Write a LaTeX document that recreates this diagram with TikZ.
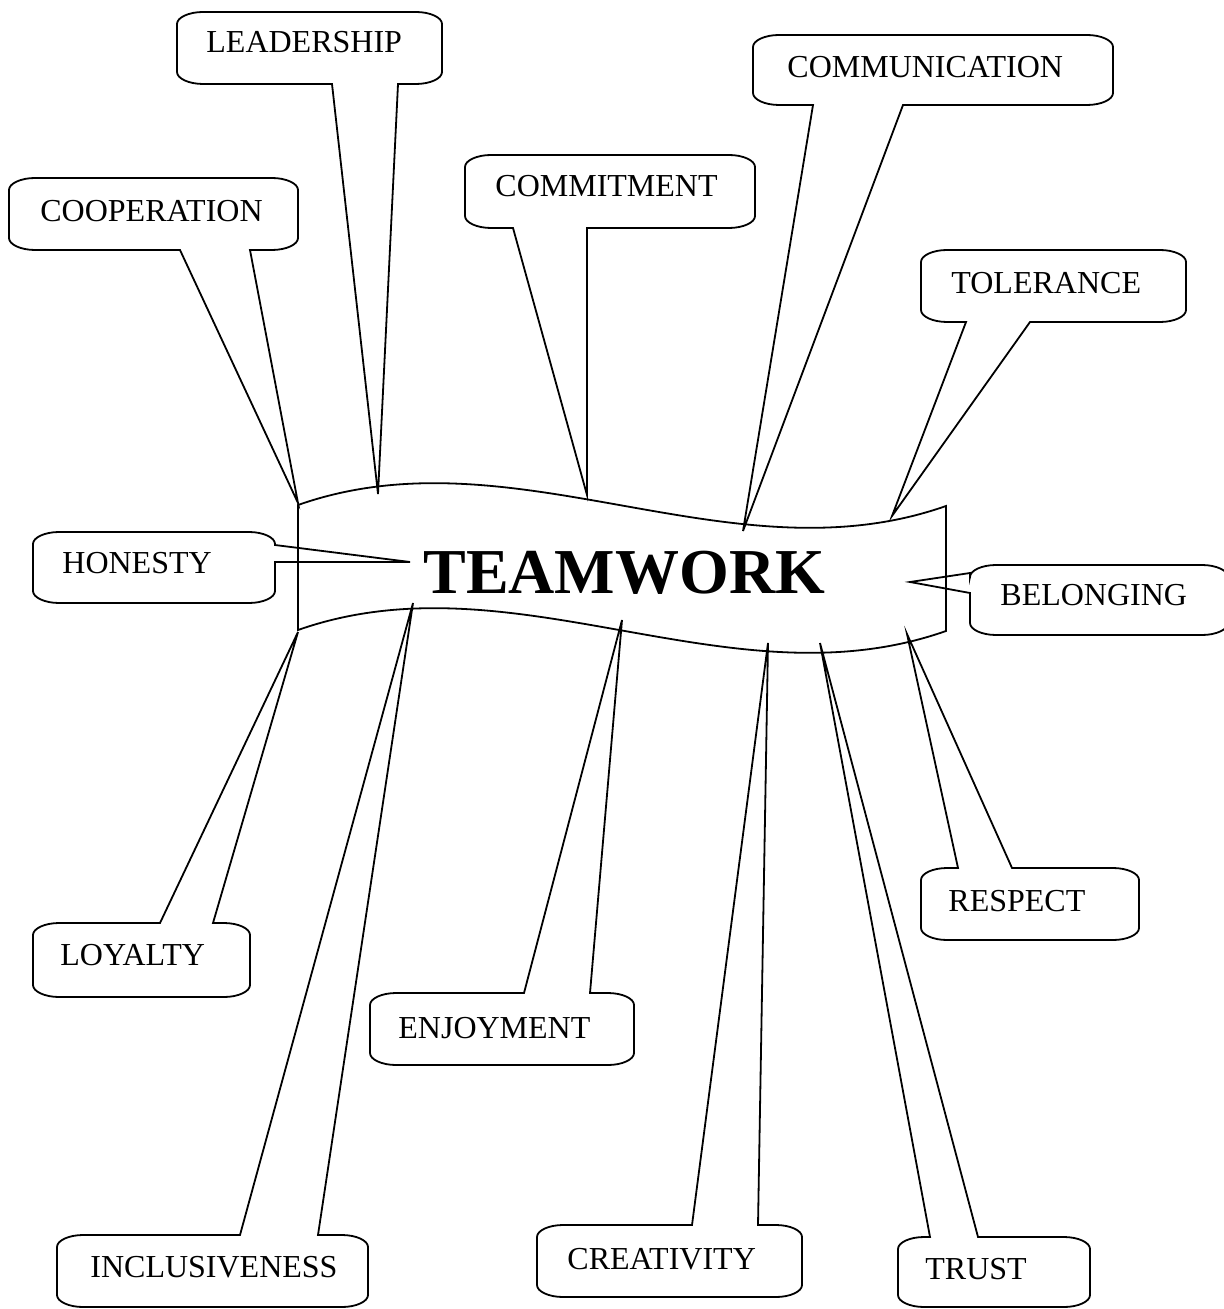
\documentclass[tikz,border=0pt]{standalone}
\usepackage{fontspec}
\setmainfont{Liberation Serif}
% Rounded callout box: #1,#2 top-left corner, #3,#4 bottom-right corner
% (y grows downwards); #5..#8 are path pieces inserted in the top, right,
% bottom and left edges (used for the pointer wedge).
\newcommand\callbox[8]{%
  \draw[outline] (#1+26,#2) #5 -- (#3-26,#2)
    .. controls (#3-12,#2) and (#3,#2+5.4) .. (#3,#2+12) #6
    -- (#3,#4-12)
    .. controls (#3,#4-5.4) and (#3-12,#4) .. (#3-26,#4) #7
    -- (#1+26,#4)
    .. controls (#1+12,#4) and (#1,#4-5.4) .. (#1,#4-12) #8
    -- (#1,#2+12)
    .. controls (#1,#2+5.4) and (#1+12,#2) .. cycle;}
\begin{document}
\begin{tikzpicture}[x=0.5pt,y=-0.5pt,
  outline/.style={draw=black,line width=0.9pt,line join=miter},
  lbl/.style={font=\fontsize{16}{19}\selectfont,inner sep=0pt,anchor=base west},
  title/.style={font=\fontsize{32}{38}\selectfont\bfseries,inner sep=0pt,anchor=base west}]
\useasboundingbox (0,0) rectangle (1223,1309);

% wavy banner
\coordinate (bTL) at (298,505);
\coordinate (bTR) at (946,506);
\coordinate (bBR) at (946,631);
\coordinate (bBL) at (298,630);
\draw[outline] (bTL) .. controls (514,429) and (730,582) .. (bTR)
  -- (bBR) .. controls (730,707) and (514,554) .. (bBL) -- cycle;
\node[title] (team) at (423,593) {TEAMWORK};

% pointer tips on the banner
\coordinate (tipCoop) at (298,503);
\coordinate (tipLead) at (378,494);
\coordinate (tipComm) at (587,495);
\coordinate (tipComu) at (743,531);
\coordinate (tipTol)  at (892,516);
\coordinate (tipHon)  at (410,562);
\coordinate (tipBel)  at (910,582);
\coordinate (tipLoy)  at (298,632);
\coordinate (tipInc)  at (413,603);
\coordinate (tipEnj)  at (622,620);
\coordinate (tipCre)  at (768,643);
\coordinate (tipTru)  at (820,643);
\coordinate (tipRes)  at (907,634);

% callouts above the banner
\callbox{177}{12}{442}{84}{}{}{-- (398,84) -- (tipLead) -- (332,84)}{}
\node[lbl] (lead) at (206,53) {LEADERSHIP};

\callbox{9}{178}{298}{250}{}{}{-- (250,250) -- (tipCoop) -- (180,250)}{}
\node[lbl] (coop) at (40,222) {COOPERATION};

\callbox{465}{155}{755}{228}{}{}{-- (587,228) -- (tipComm) -- (513,228)}{}
\node[lbl] (comm) at (495,197) {COMMITMENT};

\callbox{753}{35}{1113}{105}{}{}{-- (903,105) -- (tipComu) -- (813,105)}{}
\node[lbl] (comu) at (787,78) {COMMUNICATION};

\callbox{921}{250}{1186}{322}{}{}{-- (1030,322) -- (tipTol) -- (966,322)}{}
\node[lbl] (tol) at (951,294) {TOLERANCE};

% callouts at the sides
\callbox{33}{532}{275}{603}{}{-- (275,545) -- (tipHon) -- (275,562)}{}{}
\node[lbl] (hon) at (62,573) {HONESTY};

\callbox{970}{565}{1228}{635}{}{}{}{-- (970,593) -- (tipBel) -- (970,573)}
\node[lbl] (bel) at (1000,605) {BELONGING};

% callouts below the banner
\callbox{33}{923}{250}{997}{-- (160,923) -- (tipLoy) -- (213,923)}{}{}{}
\node[lbl] (loy) at (60,965) {LOYALTY};

\callbox{370}{993}{634}{1065}{-- (524,993) -- (tipEnj) -- (590,993)}{}{}{}
\node[lbl] (enj) at (398,1038) {ENJOYMENT};

\callbox{57}{1235}{368}{1307}{-- (240,1235) -- (tipInc) -- (318,1235)}{}{}{}
\node[lbl] (inc) at (90,1277) {INCLUSIVENESS};

\callbox{537}{1225}{802}{1297}{-- (692,1225) -- (tipCre) -- (758,1225)}{}{}{}
\node[lbl] (cre) at (567,1269) {CREATIVITY};

\callbox{921}{868}{1139}{940}{-- (958,868) -- (tipRes) -- (1012,868)}{}{}{}
\node[lbl] (res) at (948,911) {RESPECT};

\callbox{898}{1237}{1090}{1307}{-- (930,1237) -- (tipTru) -- (978,1237)}{}{}{}
\node[lbl] (tru) at (925,1279) {TRUST};
\end{tikzpicture}
\end{document}
